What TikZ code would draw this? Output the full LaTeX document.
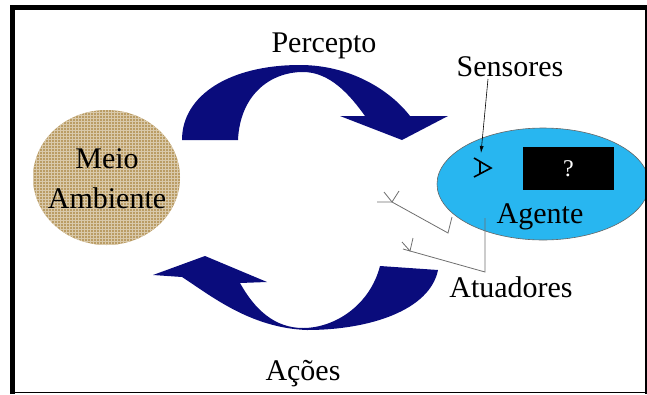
\documentclass[tikz,border=0pt]{standalone}
\usepackage{fontspec}
\setmainfont{Liberation Serif}
\usetikzlibrary{shapes.geometric, arrows.meta, patterns}

\definecolor{navyband}{RGB}{10,12,124}
\definecolor{agentblue}{RGB}{40,182,240}
\definecolor{burlap}{RGB}{186,156,100}
\definecolor{wiregray}{RGB}{110,110,110}

\begin{document}
\begin{tikzpicture}[x=1pt, y=-1pt,
    txt/.style={font=\fontsize{30}{40}\selectfont, inner sep=0pt},
    band/.style={fill=navyband},
    wire/.style={draw=wiregray, line width=0.8pt}]
    \useasboundingbox (0,0) rectangle (647,394);

    % Percepto arrow (top)
    \fill[band] (182,140) .. controls (182,95) and (230,65) .. (300,65)
        .. controls (350,65) and (390,90) .. (410,116) -- (448,116) -- (402,140) -- (340,116) -- (365,116)
        .. controls (350,95) and (330,72) .. (303,72) .. controls (270,72) and (240,95) .. (238,140) -- cycle;

    % Acoes arrow (bottom)
    \fill[band] (153,275) -- (205,256) -- (267,282) -- (240,283)
        .. controls (255,310) and (275,328) .. (303,328) .. controls (335,328) and (370,305) .. (380,266)
        -- (438,270) .. controls (430,310) and (370,330) .. (307,330)
        .. controls (250,328) and (210,295) .. (182,277) -- cycle;

    % Environment
    \node[ellipse, minimum width=147pt, minimum height=135pt, inner sep=0pt,
          preaction={fill=burlap}, pattern=grid, pattern color=burlap!55!white] (ambiente) at (106.5,177.5) {};
    \node[txt, align=center] (meio) at (107,179) {Meio\\Ambiente};

    % Agent
    \node[ellipse, minimum width=212pt, minimum height=112pt, inner sep=0pt,
          fill=agentblue, draw=black!60, line width=0.6pt] (agent) at (543,184) {};
    \node[txt, fill=black, text=white, minimum width=91pt, minimum height=43pt,
          font=\fontsize{24}{28}\selectfont] (mind) at (568.5,168.5) {?};
    \node[txt, anchor=base] (agente) at (540,223) {Agente};

    % Sensor
    \draw[line width=1.6pt] (474,158) -- (491,168) -- (474,177);
    \draw[line width=1.2pt] (480,161.5) -- (480,174);
    \coordinate (sfoot) at (488,79);
    \coordinate (sensor) at (481,153);
    \draw[-{Latex[length=7pt,width=4pt]}, line width=0.6pt] (sfoot) -- (sensor);

    % Effectors
    \coordinate (e1) at (377,202);
    \coordinate (f1) at (392,202);
    \coordinate (k1) at (448,233);
    \coordinate (t1) at (452,217);
    \draw[wire] (e1) -- (f1) -- (k1) -- (t1);
    \draw[wire] (384,192) -- (f1) -- (399,191);
    \coordinate (e2) at (403,249);
    \coordinate (f2) at (410,251);
    \coordinate (k2) at (485,272);
    \coordinate (t2) at (485,218);
    \draw[wire] (e2) -- (k2) -- (t2);
    \draw[wire] (402,242) -- (f2) -- (413,238);

    % Labels
    \node[txt, anchor=base] (percepto) at (324,52) {Percepto};
    \node[txt, anchor=base] (sensores) at (510,76) {Sensores};
    \node[txt, anchor=base] (atuadores) at (511,297) {Atuadores};
    \node[txt, anchor=base] (acoes) at (303,380) {Ações};

    % Frame
    \draw[line width=5pt] (12.5,394) -- (12.5,7.5) -- (647,7.5);
    \draw[line width=1.6pt] (12.5,392.5) -- (647,392.5);
    \draw[line width=1.6pt] (646,7.5) -- (646,394);
\end{tikzpicture}
\end{document}
